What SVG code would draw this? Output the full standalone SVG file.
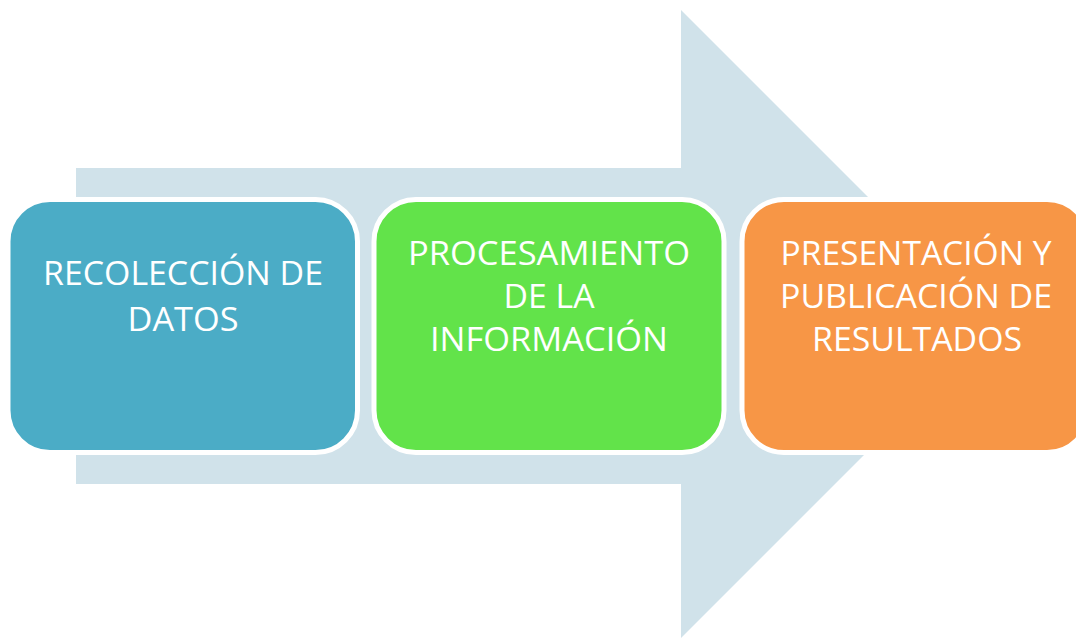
<svg xmlns="http://www.w3.org/2000/svg" width="1076" height="638" viewBox="0 0 1076 638">
<style>
.box{stroke:#FFFFFF;stroke-width:5}
.lbl{font-family:"Open Sans","Liberation Sans",sans-serif;font-size:33.5px;fill:#FFFFFF;text-anchor:middle}
</style>
<rect width="1076" height="638" fill="#FFFFFF"/>
<g id="arrow">
<polygon points="76,168 681,168 681,10 995,324 681,638 681,484 76,484" fill="#D0E2EA"/>
</g>
<g id="connectors"></g>
<g id="node1">
<rect class="box" x="8" y="199.5" width="349.5" height="253" rx="42" fill="#4BACC6"/>
<text class="lbl" x="183" y="285" textLength="280" lengthAdjust="spacingAndGlyphs">RECOLECCIÓN DE</text>
<text class="lbl" x="183" y="331" textLength="111" lengthAdjust="spacingAndGlyphs">DATOS</text>
</g>
<g id="node2">
<rect class="box" x="374" y="199.5" width="350" height="253" rx="42" fill="#62E34A"/>
<text class="lbl" x="549" y="264.5" textLength="282" lengthAdjust="spacingAndGlyphs">PROCESAMIENTO</text>
<text class="lbl" x="549" y="308" textLength="91" lengthAdjust="spacingAndGlyphs">DE LA</text>
<text class="lbl" x="549" y="351" textLength="238" lengthAdjust="spacingAndGlyphs">INFORMACIÓN</text>
</g>
<g id="node3">
<rect class="box" x="742" y="199.5" width="347" height="253" rx="42" fill="#F79646"/>
<text class="lbl" x="916" y="264.5" textLength="271" lengthAdjust="spacingAndGlyphs">PRESENTACIÓN Y</text>
<text class="lbl" x="916" y="307.5" textLength="272" lengthAdjust="spacingAndGlyphs">PUBLICACIÓN DE</text>
<text class="lbl" x="917" y="351" textLength="210" lengthAdjust="spacingAndGlyphs">RESULTADOS</text>
</g>
</svg>
